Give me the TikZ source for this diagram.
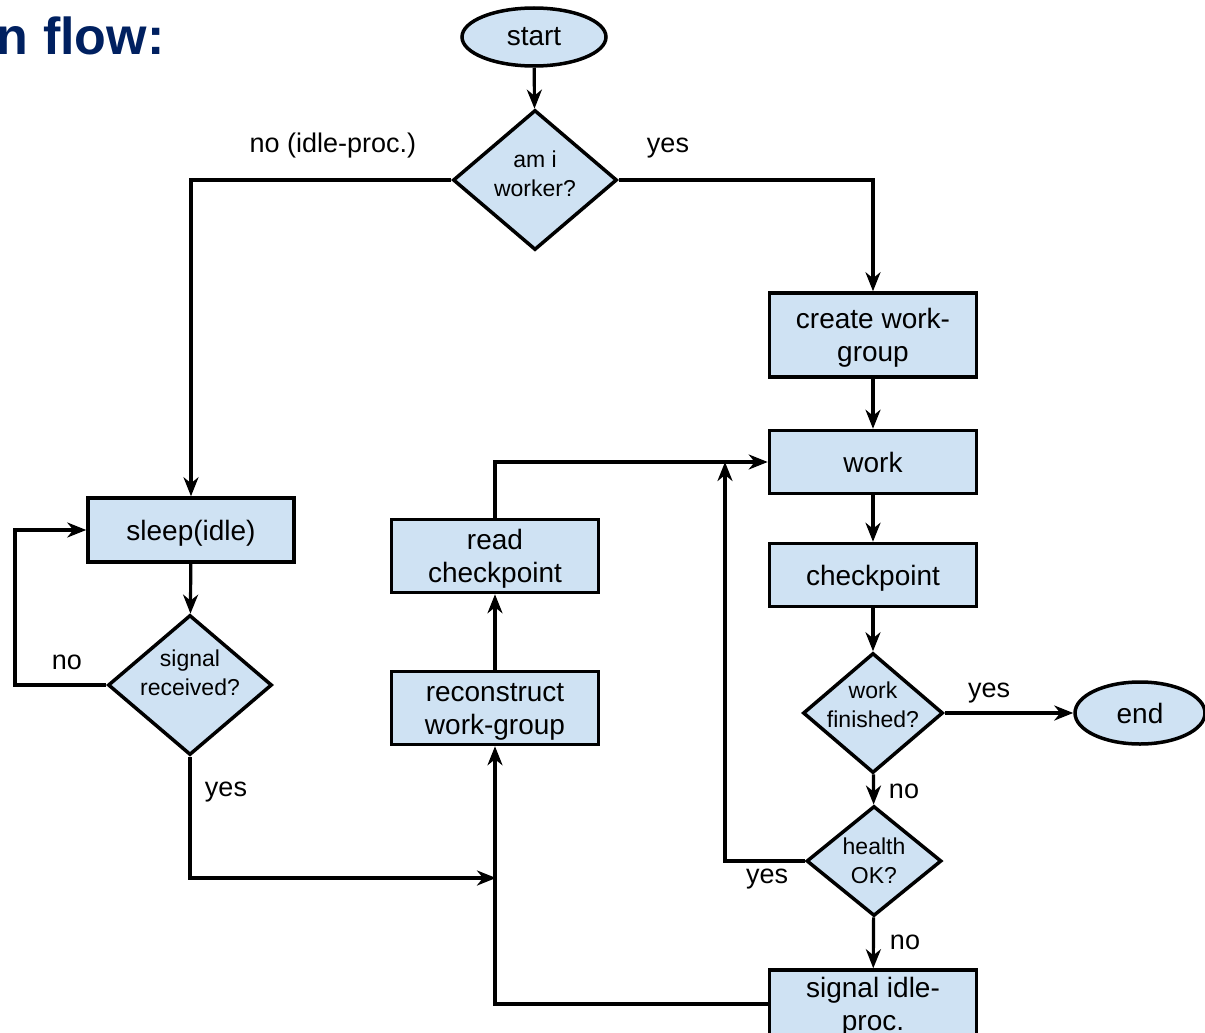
\documentclass[tikz,border=0pt]{standalone}
\usepackage{fontspec}
\setmainfont{Liberation Sans}
\usepackage{xcolor}
\usetikzlibrary{arrows.meta,shapes.geometric,calc}
\definecolor{boxblue}{RGB}{207,226,243}
\definecolor{titlenavy}{RGB}{0,32,96}

\begin{document}
\begin{tikzpicture}[x=1pt, y=-1pt, >={Stealth[length=19pt,width=15pt,inset=6pt]}, line width=3.2pt,
    procbox/.style={rectangle, draw, line width=3.5pt, fill=boxblue, minimum width=207pt, align=center, inner sep=0pt, font=\fontsize{28}{33}\selectfont},
    oneline/.style={text height=26pt, text depth=6pt},
    twoline/.style={text height=59pt, text depth=6pt},
    decide/.style={diamond, draw, line width=3.5pt, fill=boxblue, align=center, inner xsep=-10pt, inner ysep=-8pt, font=\fontsize{23}{29}\selectfont},
    terminal/.style={ellipse, draw, line width=3.5pt, fill=boxblue, inner sep=0pt, font=\fontsize{28}{33}\selectfont},
    lbl/.style={inner sep=0pt, text height=20pt, text depth=6pt, font=\fontsize{27}{32}\selectfont}]
    \useasboundingbox (0,0) rectangle (1205,1033);

    \node[anchor=base east, inner sep=0pt, text=titlenavy, font=\fontsize{52}{60}\selectfont\bfseries] (title) at (166,55) {n flow:};

    \node[terminal, minimum width=144pt, minimum height=58pt] (start) at (534,37) {start};
    \node[decide, minimum width=164pt, minimum height=140pt, text depth=13pt] (worker) at (535,180) {am i\\worker?};

    \node[procbox, twoline, minimum height=84pt] (create) at (873,335) {create work-\\group};
    \node[procbox, oneline, minimum height=63pt] (work) at (873,462) {work};
    \node[procbox, oneline, minimum height=63pt] (chk) at (873,575) {checkpoint};
    \node[decide, minimum width=140pt, minimum height=120pt, text depth=17pt] (finished) at (873,713) {work\\finished?};
    \node[terminal, minimum width=130pt, minimum height=62pt] (end) at (1140,713) {end};
    \node[decide, minimum width=135pt, minimum height=110pt] (health) at (874,861) {health\\OK?};
    \node[procbox, twoline, minimum height=68pt] (idleproc) at (873,1004) {signal idle-\\proc.};

    \node[procbox, twoline, minimum height=73pt] (readchk) at (495,556) {read\\checkpoint};
    \node[procbox, twoline, minimum height=73pt] (recon) at (495,708) {reconstruct\\work-group};

    \node[procbox, oneline, minimum width=206pt, minimum height=64pt] (sleep) at (191,530) {sleep(idle)};
    \node[decide, minimum width=164pt, minimum height=140pt, text depth=25pt] (signal) at (190,685) {signal\\received?};

    \coordinate (J) at (725,462);
    \coordinate (L) at (15,685);
    \coordinate (K) at (496,878);

    \node[lbl] (noidle) at (333,145) {no (idle-proc.)};
    \node[lbl] (yesworker) at (668,145) {yes};
    \node[lbl] (yesfin) at (989,690) {yes};
    \node[lbl] (nofin) at (904,791) {no};
    \node[lbl] (yeshealth) at (767,876) {yes};
    \node[lbl] (nohealth) at (905,942) {no};
    \node[lbl] (nosignal) at (67,662) {no};
    \node[lbl] (yessignal) at (226,789) {yes};

    \draw[->] (start) -- (worker);
    \draw[->] (worker.west) -| (sleep.north);
    \draw[->] (worker.east) -| (create.north);
    \draw[->] (create) -- (work);
    \draw[->] (work) -- (chk);
    \draw[->] (chk) -- (finished);
    \draw[->] (finished) -- (end);
    \draw[->] (finished) -- (health);
    \draw[->] (health) -- (idleproc);
    \draw[->] (health.west) -| (J);
    \draw[->] (readchk.north) |- (work.west);
    \draw[->] (idleproc.west) -| (recon.south);
    \draw[->] (recon) -- (readchk);
    \draw[->] (sleep) -- (signal);
    \draw[->] (signal.west) -- (L) |- (sleep.west);
    \draw[->] (signal.south) |- (K);
  \end{tikzpicture}
\end{document}
